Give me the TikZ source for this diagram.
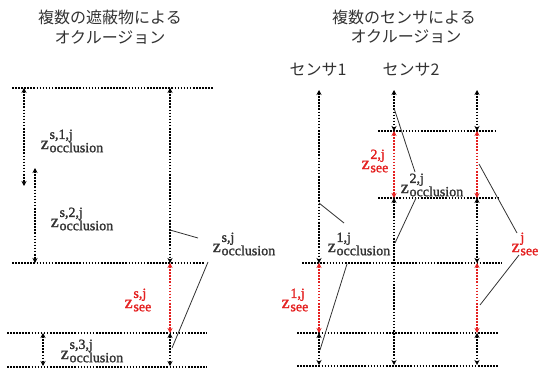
\documentclass[tikz,border=0pt]{standalone}
\usepackage{fontspec}
\newfontfamily\jpfont{Noto Sans CJK JP}
\newfontfamily\lblfont[FakeBold=1.5]{Liberation Serif}
\usetikzlibrary{arrows.meta}
\definecolor{myred}{RGB}{228,32,32}
\definecolor{txtgray}{RGB}{50,50,50}
\newcommand{\zlab}[2]{{\fontsize{13.5}{14}\selectfont z}\kern0.6pt\rlap{\raisebox{7.6pt}{\fontsize{10.5}{11}\selectfont #1}}\raisebox{-2.4pt}{\fontsize{10.5}{11}\selectfont #2}}
\tikzset{
  hline/.style={line width=1.35pt, dash pattern=on 1.2pt off 1.1pt},
  varrow/.style={line width=1.35pt, dash pattern=on 1.2pt off 1.1pt, {Stealth[length=3.8pt,width=3.8pt]}-{Stealth[length=3.8pt,width=3.8pt]}},
  redarrow/.style={varrow, myred},
  leader/.style={line width=0.6pt, txtgray},
  titletext/.style={font=\jpfont\fontsize{12}{14}\selectfont, text=txtgray, inner sep=0pt, align=center},
  lbl/.style={font=\lblfont, text=txtgray, inner sep=0pt},
  redlbl/.style={lbl, text=myred}
}
\begin{document}
\begin{tikzpicture}[x=0.75pt,y=-0.75pt]
\useasboundingbox (0,0) rectangle (539,374);
% titles
\node[titletext] (t1a) at (110,17) {複数の遮蔽物による};
\node[titletext] (t1b) at (110,37) {オクルージョン};
\node[titletext] (t2a) at (404,17) {複数のセンサによる};
\node[titletext] (t2b) at (406,36) {オクルージョン};
\node[titletext] (s1) at (318,70) {センサ1};
\node[titletext] (s2) at (411,70) {センサ2};

% ---------- left diagram ----------
\coordinate (Lh1a) at (12,88);  \coordinate (Lh1b) at (213,88);
\coordinate (Lh2a) at (12,263); \coordinate (Lh2b) at (205,263);
\coordinate (Lh3a) at (7,333);  \coordinate (Lh3b) at (207,333);
\coordinate (Lh4a) at (7,367);  \coordinate (Lh4b) at (207,367);
\draw[hline] (Lh1a) -- (Lh1b);
\draw[hline] (Lh2a) -- (Lh2b);
\draw[hline] (Lh3a) -- (Lh3b);
\draw[hline] (Lh4a) -- (Lh4b);

\coordinate (La1) at (24,88);  \coordinate (La2) at (24,186);
\coordinate (Lb1) at (35,168); \coordinate (Lb2) at (35,263);
\coordinate (Lc1) at (170,88); \coordinate (Lc2) at (170,263);
\coordinate (Lc3) at (170,333); \coordinate (Lc4) at (170,366);
\coordinate (Ld1) at (43,333); \coordinate (Ld2) at (43,366);
\draw[varrow] (La1) -- (La2);
\draw[varrow] (Lb1) -- (Lb2);
\draw[varrow] (Lc1) -- (Lc2);
\draw[redarrow] (Lc2) -- (Lc3);
\draw[varrow] (Lc3) -- (Lc4);
\draw[varrow] (Ld1) -- (Ld2);

\node[lbl] (zl1) at (72,141) {\zlab{s,1,j}{occlusion}};
\node[lbl] (zl2) at (82,219) {\zlab{s,2,j}{occlusion}};
\node[lbl] (zl3) at (244,244) {\zlab{s,j}{occlusion}};
\node[redlbl] (zl4) at (138,300) {\zlab{s,j}{see}};
\node[lbl] (zl5) at (92,351) {\zlab{s,3,j}{occlusion}};

\coordinate (Ll1a) at (170,230); \coordinate (Ll1b) at (198,238);
\coordinate (Ll2a) at (208,262); \coordinate (Ll2b) at (172,348);
\draw[leader] (Ll1a) -- (Ll1b);
\draw[leader] (Ll2a) -- (Ll2b);

% ---------- right diagram ----------
\coordinate (Rh1a) at (378,131); \coordinate (Rh1b) at (495,131);
\coordinate (Rh2a) at (378,198); \coordinate (Rh2b) at (498,198);
\coordinate (Rh3a) at (302,263); \coordinate (Rh3b) at (502,263);
\coordinate (Rh4a) at (297,333); \coordinate (Rh4b) at (498,333);
\coordinate (Rh5a) at (297,366); \coordinate (Rh5b) at (498,366);
\draw[hline] (Rh1a) -- (Rh1b);
\draw[hline] (Rh2a) -- (Rh2b);
\draw[hline] (Rh3a) -- (Rh3b);
\draw[hline] (Rh4a) -- (Rh4b);
\draw[hline] (Rh5a) -- (Rh5b);

\coordinate (Ra0) at (319,90); \coordinate (Ra1) at (319,263);
\coordinate (Ra2) at (319,333); \coordinate (Ra3) at (319,365);
\draw[varrow] (Ra0) -- (Ra1);
\draw[redarrow] (Ra1) -- (Ra2);
\draw[varrow] (Ra2) -- (Ra3);

\coordinate (Rb0) at (394,90); \coordinate (Rb1) at (394,131);
\coordinate (Rb2) at (394,198); \coordinate (Rb3) at (394,365);
\draw[varrow] (Rb0) -- (Rb1);
\draw[redarrow] (Rb1) -- (Rb2);
\draw[varrow] (Rb2) -- (Rb3);

\coordinate (Rc0) at (477,90); \coordinate (Rc1) at (477,131);
\coordinate (Rc2) at (477,198); \coordinate (Rc3) at (477,263);
\coordinate (Rc4) at (477,333); \coordinate (Rc5) at (477,365);
\draw[varrow] (Rc0) -- (Rc1);
\draw[redarrow] (Rc1) -- (Rc2);
\draw[varrow] (Rc2) -- (Rc3);
\draw[redarrow] (Rc3) -- (Rc4);
\draw[varrow] (Rc4) -- (Rc5);

\node[redlbl] (zr1) at (375,161) {\zlab{2,j}{see}};
\node[lbl] (zr2) at (432,185) {\zlab{2,j}{occlusion}};
\node[lbl] (zr3) at (359,244) {\zlab{1,j}{occlusion}};
\node[redlbl] (zr4) at (295,300) {\zlab{1,j}{see}};
\node[redlbl] (zr5) at (525,244) {\zlab{j}{see}};

\coordinate (Rl1a) at (394,108); \coordinate (Rl1b) at (415,172);
\coordinate (Rl2a) at (479,164); \coordinate (Rl2b) at (517,233);
\coordinate (Rl3a) at (519,255); \coordinate (Rl3b) at (480,305);
\coordinate (Rl4a) at (319,203); \coordinate (Rl4b) at (344,223);
\coordinate (Rl5a) at (395,243); \coordinate (Rl5b) at (416,198);
\coordinate (Rl6a) at (347,264); \coordinate (Rl6b) at (320,350);
\draw[leader] (Rl1a) -- (Rl1b);
\draw[leader] (Rl2a) -- (Rl2b);
\draw[leader] (Rl3a) -- (Rl3b);
\draw[leader] (Rl4a) -- (Rl4b);
\draw[leader] (Rl5a) -- (Rl5b);
\draw[leader] (Rl6a) -- (Rl6b);
\end{tikzpicture}
\end{document}
